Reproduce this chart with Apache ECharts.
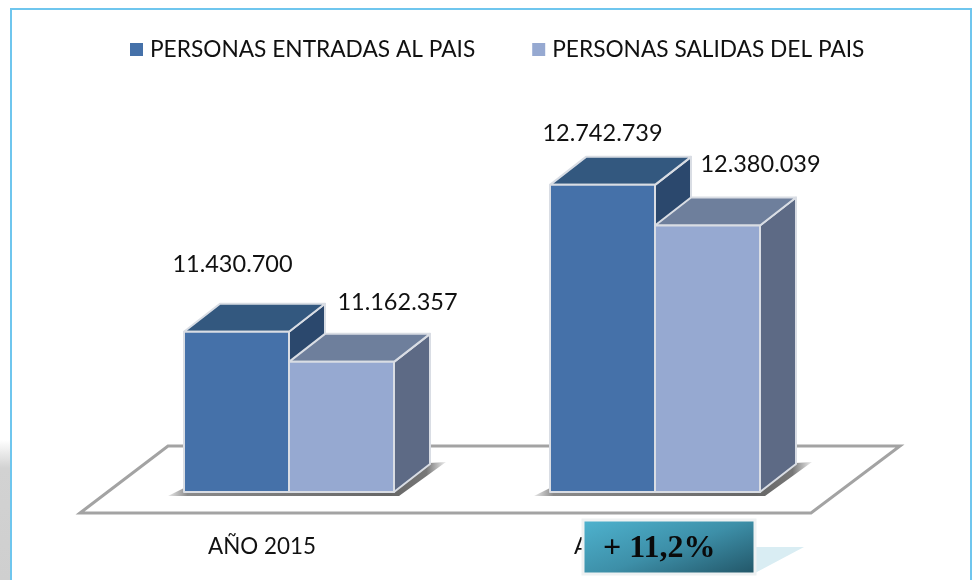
<!DOCTYPE html>
<html>
<head>
<meta charset="utf-8">
<title>Personas entradas y salidas</title>
<script src="https://cdn.jsdelivr.net/npm/echarts@6/dist/echarts.min.js"></script>
<style>
  html, body { margin: 0; padding: 0; background: #fff; }
  #chart { width: 974px; height: 580px; }
</style>
</head>
<body>
<div id="chart"></div>
<script>
const years = ['AÑO 2015', 'AÑO 2016'];
const entradas = [11430700, 12742739];
const salidas = [11162357, 12380039];
const seriesNames = ['PERSONAS ENTRADAS AL PAIS', 'PERSONAS SALIDAS DEL PAIS'];
const badgeText = '+ 11,2%';

const labelFont = 'Lato';
const barShare = 105 / 366;
const depthX = 36;
const depthY = -28;
const edge = '#d9dde4';

const faces = [
  { front: '#4571a9', top: '#33587f', side: '#2b486d' },
  { front: '#96a9d1', top: '#6e7f9c', side: '#5d6a85' }
];
// where each value label sits, relative to the top centre of its bar
const labelShift = [
  [[-4, -67], [56, -59]],
  [[0, -51], [53, -61]]
];

function dots(n) {
  return String(n).replace(/\B(?=(\d{3})+$)/g, '.');
}

function renderBar(which) {
  return function (params, api) {
    const i = api.value(0);
    const base = api.coord([i, 10000000]);
    const top = api.coord([i, api.value(1)]);
    const w = api.size([1, 0])[0] * barShare;
    const x0 = which === 0 ? base[0] - w : base[0];
    const x1 = x0 + w;
    const c = faces[which];
    const line = { stroke: edge, lineWidth: 2, lineJoin: 'round' };
    const shift = labelShift[i][which];
    const poly = (pts, fill) => ({
      type: 'polygon',
      shape: { points: pts },
      style: Object.assign({ fill: fill }, line)
    });
    return {
      type: 'group',
      children: [
        poly([[x1, top[1]], [x1 + depthX, top[1] + depthY], [x1 + depthX, base[1] + depthY], [x1, base[1]]], c.side),
        poly([[x0, top[1]], [x0 + depthX, top[1] + depthY], [x1 + depthX, top[1] + depthY], [x1, top[1]]], c.top),
        poly([[x0, top[1]], [x1, top[1]], [x1, base[1]], [x0, base[1]]], c.front),
        {
          type: 'text',
          style: {
            x: (x0 + x1) / 2 + shift[0],
            y: top[1] + shift[1],
            text: dots(api.value(1)),
            fill: '#111',
            font: '23.5px ' + labelFont,
            align: 'center',
            verticalAlign: 'middle'
          }
        }
      ]
    };
  };
}

function floorShadow(dx) {
  return {
    type: 'polygon', z: 1,
    shape: { points: [[168 + dx, 496], [184 + dx, 488], [393 + dx, 490], [429 + dx, 463], [446 + dx, 462], [399 + dx, 496]] },
    style: {
      fill: new echarts.graphic.LinearGradient(0, 0, 1, 0, [
        { offset: 0, color: '#e8e8e8' },
        { offset: 0.07, color: '#8a8a8a' },
        { offset: 0.8, color: '#666666' },
        { offset: 0.93, color: '#777777' },
        { offset: 1, color: '#eeeeee' }
      ])
    }
  };
}

const chart = echarts.init(document.getElementById('chart'));
chart.setOption({
  animation: false,
  backgroundColor: '#fff',
  legend: {
    left: 125,
    top: 33,
    itemWidth: 13,
    itemHeight: 13,
    itemGap: 57,
    icon: 'rect',
    data: seriesNames,
    textStyle: { fontFamily: labelFont, fontSize: 22.7, color: '#111', padding: [0, 0, 0, 2] }
  },
  grid: { left: 106, width: 732, top: 92, height: 400 },
  xAxis: {
    type: 'category',
    data: years,
    axisLine: { show: false },
    axisTick: { show: false },
    axisLabel: {
      margin: 44,
      fontFamily: labelFont,
      fontSize: 22.4,
      color: '#111',
      padding: [0, 54, 0, 0]
    }
  },
  yAxis: { type: 'value', show: false, min: 10000000, max: 13572000 },
  series: [
    {
      name: seriesNames[0],
      type: 'custom',
      renderItem: renderBar(0),
      itemStyle: { color: faces[0].front },
      encode: { x: 0, y: 1 },
      data: entradas.map((v, i) => [i, v]),
      z: 3
    },
    {
      name: seriesNames[1],
      type: 'custom',
      renderItem: renderBar(1),
      itemStyle: { color: faces[1].front },
      encode: { x: 0, y: 1 },
      data: salidas.map((v, i) => [i, v]),
      z: 4
    }
  ],
  graphic: [
    // grey page shadow and the cyan frame
    {
      type: 'rect', z: 0, shape: { x: 0, y: 440, width: 10, height: 140 },
      style: {
        fill: new echarts.graphic.LinearGradient(0, 0, 0, 1, [
          { offset: 0, color: '#ffffff' },
          { offset: 0.2, color: '#d2d2d2' },
          { offset: 1, color: '#cfcfcf' }
        ])
      }
    },
    {
      type: 'polyline', z: 0,
      shape: { points: [[11, 580], [11, 9], [971, 9], [971, 580]] },
      style: { stroke: '#6fc6ee', lineWidth: 2, fill: null }
    },
    // floor
    {
      type: 'polygon', z: 0,
      shape: { points: [[80, 513], [168, 446], [900, 446], [811, 513]] },
      style: { fill: '#fff', stroke: '#a3a3a3', lineWidth: 3, lineJoin: 'miter' }
    },
    // shadows the bars throw on the floor
    floorShadow(0),
    floorShadow(366),
    // percentage badge
    {
      type: 'polygon', z: 100,
      shape: { points: [[755, 547], [804, 547], [755, 573]] },
      style: { fill: '#d9edf3' }
    },
    {
      type: 'rect', z: 101,
      shape: { x: 583, y: 520, width: 172, height: 54 },
      style: {
        fill: new echarts.graphic.LinearGradient(0, 0, 0.233, 1.94, [
          { offset: 0, color: '#4fb4d0' },
          { offset: 0.5, color: '#3d8fa8' },
          { offset: 1, color: '#1f4f60' }
        ]),
        stroke: '#eef1f2',
        lineWidth: 3
      }
    },
    {
      type: 'text', z: 102,
      style: {
        x: 603, y: 549,
        text: badgeText,
        fill: '#0a0a0a',
        font: 'bold 32px "Liberation Serif"',
        verticalAlign: 'middle'
      }
    }
  ]
});
</script>
</body>
</html>
